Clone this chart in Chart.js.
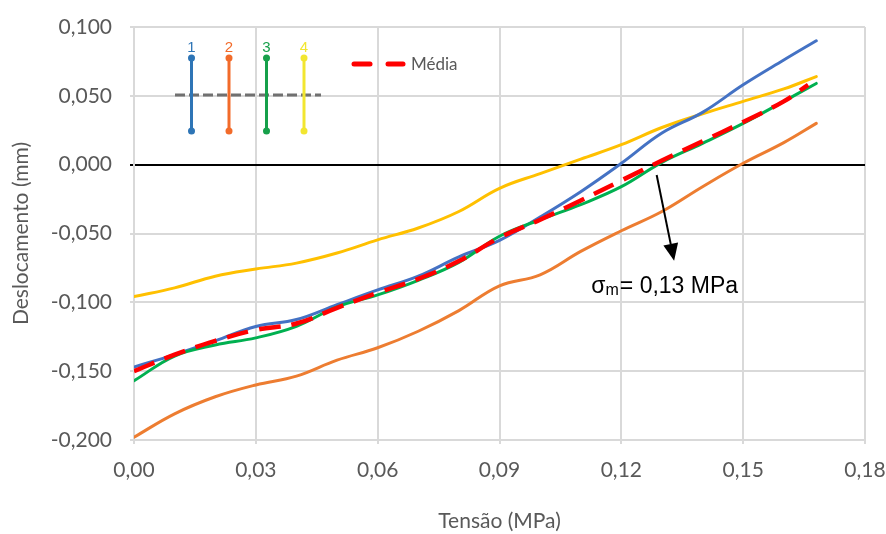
<!DOCTYPE html>
<html><head><meta charset="utf-8">
<script src="https://cdn.jsdelivr.net/npm/chart.js@4.4.1/dist/chart.umd.min.js"></script>
<style>html,body{margin:0;padding:0;background:#fff}#wrap{width:886px;height:534px}</style>
</head><body><div id="wrap"><canvas id="c" width="886" height="534"></canvas></div>
<script>
// ---- data (Tensão in MPa, Deslocamento in mm) ----
const tensao  = [0, 0.01, 0.02, 0.03, 0.04, 0.05, 0.06, 0.07, 0.08, 0.09, 0.10, 0.11, 0.12, 0.13, 0.14, 0.15, 0.16, 0.168];
const serie1  = [-0.147, -0.138, -0.128, -0.1175, -0.1125, -0.1017, -0.091, -0.081, -0.067, -0.055, -0.038, -0.0196, 0.001, 0.023, 0.038, 0.058, 0.076, 0.090];
const serie2  = [-0.198, -0.181, -0.1686, -0.160, -0.1536, -0.142, -0.133, -0.121, -0.106, -0.088, -0.080, -0.063, -0.048, -0.034, -0.016, 0.001, 0.016, 0.030];
const serie3  = [-0.157, -0.139, -0.131, -0.1258, -0.1174, -0.1033, -0.0946, -0.084, -0.071, -0.052, -0.040, -0.029, -0.016, 0.0017, 0.0155, 0.030, 0.046, 0.059];
const serie4  = [-0.0958, -0.0895, -0.081, -0.0758, -0.0715, -0.0642, -0.0546, -0.046, -0.034, -0.0172, -0.0065, 0.004, 0.0145, 0.027, 0.037, 0.046, 0.055, 0.064];
const mediaX  = [0, 0.01, 0.02, 0.03, 0.04, 0.05, 0.06, 0.07, 0.08, 0.09, 0.10, 0.11, 0.12, 0.13, 0.14, 0.15, 0.16, 0.166];
const media   = [-0.150, -0.138, -0.128, -0.120, -0.1154, -0.104, -0.093, -0.083, -0.070, -0.053, -0.040, -0.026, -0.0115, 0.003, 0.017, 0.031, 0.046, 0.058];
const seriesNames = ['1', '2', '3', '4'];
const mediaLabel = 'Média';
const xTitle = 'Tensão (MPa)';
const yTitle = 'Deslocamento (mm)';
const annotText = ['σ', 'm', '= 0,13 MPa'];
const arrowFrom = [0.1287, -0.0075];
const arrowTo   = [0.1330, -0.0698];
const annotAt   = [0.1126, -0.0935];

const pts = (xs, ys) => xs.map((v, i) => ({x: v, y: ys[i]}));
const base = {fill: false, pointRadius: 0, tension: 0.4, borderWidth: 3, borderCapStyle: 'round'};

const overlay = {
  id: 'overlay',
  afterDatasetsDraw(chart) {
    const {ctx, chartArea: a, scales: {x, y}} = chart;
    ctx.save();
    // legend diagram: vertical bars 1-4
    const cols = ['#2E75B6', '#F26B2A', '#16A04A', '#F2E630'];
    const xs = [57.5, 95, 132.5, 170];
    const t0 = a.top + 31, t1 = a.top + 104;
    ctx.strokeStyle = '#707070'; ctx.lineWidth = 3; ctx.setLineDash([10, 4]); ctx.lineCap = 'butt';
    ctx.beginPath(); ctx.moveTo(a.left + 41, a.top + 68); ctx.lineTo(a.left + 187, a.top + 68); ctx.stroke();
    ctx.setLineDash([]);
    xs.forEach((dx, i) => {
      const px = a.left + dx;
      ctx.strokeStyle = cols[i]; ctx.fillStyle = cols[i]; ctx.lineWidth = 3;
      ctx.beginPath(); ctx.moveTo(px, t0); ctx.lineTo(px, t1); ctx.stroke();
      ctx.beginPath(); ctx.arc(px, t0, 3.5, 0, Math.PI * 2); ctx.fill();
      ctx.beginPath(); ctx.arc(px, t1, 3.5, 0, Math.PI * 2); ctx.fill();
      ctx.font = '15px "Liberation Sans", Arial, sans-serif';
      ctx.textAlign = 'center'; ctx.textBaseline = 'alphabetic';
      ctx.fillText(seriesNames[i], px, a.top + 25);
    });
    // Média legend
    ctx.strokeStyle = '#FF0000'; ctx.lineWidth = 5; ctx.lineCap = 'round';
    ctx.beginPath(); ctx.moveTo(a.left + 220, a.top + 37); ctx.lineTo(a.left + 236, a.top + 37); ctx.stroke();
    ctx.beginPath(); ctx.moveTo(a.left + 254, a.top + 37); ctx.lineTo(a.left + 269, a.top + 37); ctx.stroke();
    ctx.fillStyle = '#595959'; ctx.font = '17px Lato, sans-serif';
    ctx.textAlign = 'left'; ctx.textBaseline = 'middle';
    ctx.fillText(mediaLabel, a.left + 277, a.top + 38);
    // arrow
    const x0 = x.getPixelForValue(arrowFrom[0]), y0 = y.getPixelForValue(arrowFrom[1]);
    const x1 = x.getPixelForValue(arrowTo[0]), y1 = y.getPixelForValue(arrowTo[1]);
    const ang = Math.atan2(y1 - y0, x1 - x0), L = 17, W = 7.5;
    const bx = x1 - L * Math.cos(ang), by = y1 - L * Math.sin(ang);
    ctx.strokeStyle = '#000'; ctx.fillStyle = '#000'; ctx.lineWidth = 2; ctx.lineCap = 'butt';
    ctx.beginPath(); ctx.moveTo(x0, y0); ctx.lineTo(bx, by); ctx.stroke();
    ctx.beginPath(); ctx.moveTo(x1, y1);
    ctx.lineTo(bx + W * Math.sin(ang), by - W * Math.cos(ang));
    ctx.lineTo(bx - W * Math.sin(ang), by + W * Math.cos(ang));
    ctx.closePath(); ctx.fill();
    // annotation text
    let tx = x.getPixelForValue(annotAt[0]); const ty = y.getPixelForValue(annotAt[1]);
    ctx.textAlign = 'left'; ctx.textBaseline = 'alphabetic'; ctx.fillStyle = '#000';
    ctx.font = '23px "Liberation Sans", Arial, sans-serif';
    ctx.fillText(annotText[0], tx, ty); tx += ctx.measureText(annotText[0]).width;
    ctx.font = '16px "Liberation Sans", Arial, sans-serif';
    ctx.fillText(annotText[1], tx, ty + 2); tx += ctx.measureText(annotText[1]).width + 1;
    ctx.font = '23px "Liberation Sans", Arial, sans-serif';
    ctx.fillText(annotText[2], tx, ty);
    ctx.restore();
  }
};

const isZero = v => Math.abs(v) < 1e-9;
new Chart(document.getElementById('c'), {
  type: 'line',
  data: {
    datasets: [
      {...base, label: mediaLabel, data: pts(mediaX, media), borderColor: '#FF0000', borderWidth: 4.5, borderDash: [22, 11], borderCapStyle: 'butt', order: 0},
      {...base, label: seriesNames[2], data: pts(tensao, serie3), borderColor: '#00B050', order: 1},
      {...base, label: seriesNames[0], data: pts(tensao, serie1), borderColor: '#4472C4', order: 2},
      {...base, label: seriesNames[1], data: pts(tensao, serie2), borderColor: '#ED7D31', order: 3},
      {...base, label: seriesNames[3], data: pts(tensao, serie4), borderColor: '#FFC000', order: 4}
    ]
  },
  options: {
    responsive: false, animation: false, devicePixelRatio: 1,
    layout: {padding: {top: 27, right: 21, left: 0, bottom: 0}},
    plugins: {legend: {display: false}, tooltip: {enabled: false}},
    scales: {
      x: {
        type: 'linear', min: 0, max: 0.18,
        afterFit: s => { s.height = 94; s.paddingLeft = 0; s.paddingRight = 0; },
        ticks: {stepSize: 0.03, padding: 14, color: '#595959', font: {family: 'Lato', size: 21},
                callback: v => (Math.round(v * 100) / 100).toFixed(2).replace('.', ',')},
        grid: {color: '#d9d9d9', lineWidth: 2, tickLength: 4},
        border: {color: '#d9d9d9', width: 2},
        title: {display: true, text: xTitle, color: '#595959', font: {family: 'Lato', size: 21}, padding: {top: 0, bottom: 0}}
      },
      y: {
        type: 'linear', min: -0.2, max: 0.1,
        afterFit: s => { s.width = 134; s.paddingTop = 0; s.paddingBottom = 0; },
        ticks: {stepSize: 0.05, padding: 18, color: '#595959', font: {family: 'Lato', size: 21},
                callback: v => (isZero(v) ? 0 : v).toFixed(3).replace('.', ',')},
        grid: {color: c => isZero(c.tick.value) ? '#000000' : '#d9d9d9', lineWidth: 2, tickLength: 4},
        border: {color: '#d9d9d9', width: 2},
        title: {display: true, text: yTitle, color: '#595959', font: {family: 'Lato', size: 21}, padding: {top: 9, bottom: 0}}
      }
    }
  },
  plugins: [overlay]
});
</script>
</body></html>
